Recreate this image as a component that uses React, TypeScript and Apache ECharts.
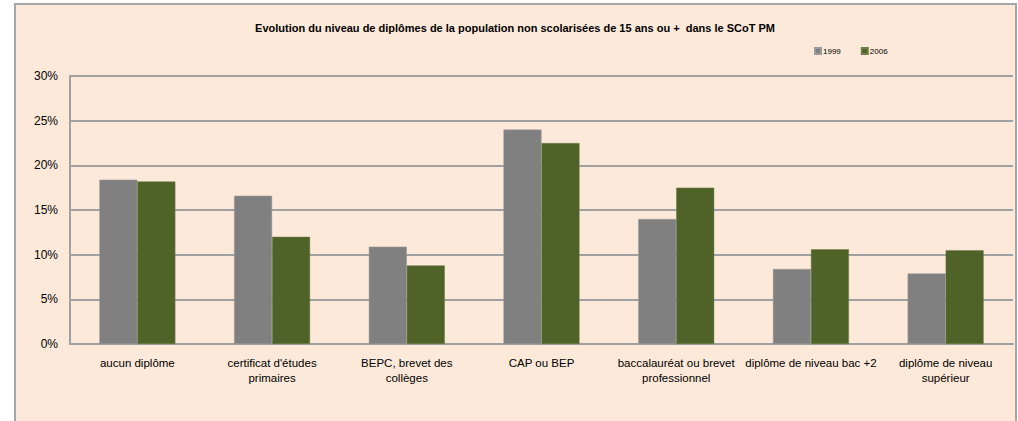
import React, { useEffect, useRef } from "react";
import * as echarts from "echarts";

const categories = [
  "aucun diplôme",
  "certificat d'études\nprimaires",
  "BEPC, brevet des\ncollèges",
  "CAP ou BEP",
  "baccalauréat ou brevet\nprofessionnel",
  "diplôme de niveau bac +2",
  "diplôme de niveau\nsupérieur",
];
const values1999 = [18.4, 16.6, 10.9, 24.0, 14.0, 8.4, 7.9];
const values2006 = [18.2, 12.0, 8.8, 22.5, 17.5, 10.6, 10.5];
const yTicks = [0, 5, 10, 15, 20, 25, 30];
const titleText =
  "Evolution du niveau de diplômes de la population non scolarisées de 15 ans ou +  dans le SCoT PM";

export default function App() {
  const ref = useRef<HTMLDivElement>(null);
  useEffect(() => {
    document.body.style.margin = "0";
    const chart = echarts.init(ref.current!, null, { renderer: "svg" });
    const font = "'Liberation Sans', Arial, sans-serif";
    chart.setOption({
      animation: false,
      backgroundColor: "#ffffff",
      textStyle: { fontFamily: font },
      graphic: [
        {
          type: "rect",
          z: -10,
          silent: true,
          shape: { x: 15, y: 4, width: 1001, height: 440 },
          style: { fill: "#FDE9D9", stroke: "#A6A6A6", lineWidth: 2 },
        },
      ],
      title: {
        text: titleText,
        left: 510,
        textAlign: "center",
        top: 17,
        textStyle: { fontSize: 11, fontWeight: "bold", color: "#000", fontFamily: font },
      },
      legend: {
        left: 814,
        top: 47,
        padding: 0,
        icon: "rect",
        itemWidth: 6,
        itemHeight: 6,
        itemGap: 20,
        textStyle: { fontSize: 8, color: "#000", padding: [0, 0, 0, -3] },
        data: ["1999", "2006"],
      },
      grid: { left: 70, right: 5, top: 76, bottom: 77, containLabel: false },
      xAxis: {
        type: "category",
        data: categories,
        axisLine: { lineStyle: { color: "#A0A0A0", width: 2 } },
        axisTick: { show: false },
        axisLabel: {
          interval: 0,
          color: "#000",
          fontSize: 11.5,
          lineHeight: 15,
          margin: 11,
        },
      },
      yAxis: {
        type: "value",
        min: 0,
        max: 30,
        interval: 5,
        axisLine: { show: true, lineStyle: { color: "#A0A0A0", width: 2 } },
        axisTick: { show: false },
        axisLabel: {
          color: "#000",
          fontSize: 12,
          margin: 12,
          formatter: (v: number) => (yTicks.includes(v) ? v + "%" : ""),
        },
        splitLine: { lineStyle: { color: "#A0A0A0", width: 2 } },
      },
      series: [
        {
          name: "1999",
          type: "bar",
          data: values1999,
          barWidth: 38,
          barGap: "0%",
          itemStyle: { color: "#808080", borderColor: "#9A9A9A", borderWidth: 0.5 },
        },
        {
          name: "2006",
          type: "bar",
          data: values2006,
          barWidth: 38,
          barGap: "0%",
          itemStyle: { color: "#4F6228", borderColor: "#6E7F4A", borderWidth: 0.5 },
        },
      ],
    });
    return () => chart.dispose();
  }, []);
  return <div ref={ref} style={{ width: 1018, height: 421 }} />;
}
